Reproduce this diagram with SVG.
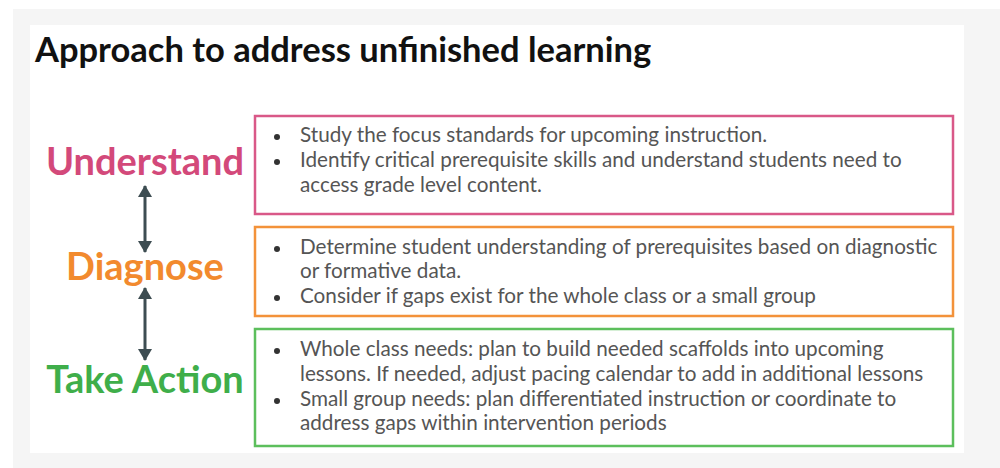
<svg xmlns="http://www.w3.org/2000/svg" width="1000" height="468" viewBox="0 0 1000 468">
<defs>
<marker id="ah" viewBox="0 0 12 14" refX="11" refY="7" markerWidth="12" markerHeight="14" markerUnits="userSpaceOnUse" orient="auto-start-reverse">
<path d="M0,0 L12,7 L0,14 Z" fill="#3d4d52"/>
</marker>
<style>
.title{font-family:Lato,"Liberation Sans",sans-serif;font-weight:700;font-size:34.5px;fill:#111}
.lbl{font-family:Lato,"Liberation Sans",sans-serif;font-weight:700;font-size:38px;text-anchor:middle}
.body{font-family:Lato,"Liberation Sans",sans-serif;font-size:20.7px;fill:#555}
.box{fill:#fff;stroke-width:2.5}
.bul{fill:#333}
.arr{stroke:#3d4d52;stroke-width:3;fill:none}
</style>
</defs>
<rect x="0" y="0" width="1000" height="468" fill="#fff"/>
<rect x="13" y="9" width="987" height="459" fill="#f5f5f5"/>
<rect x="30" y="25" width="934" height="428" fill="#fff"/>
<text class="title" x="35" y="62">Approach to address unfinished learning</text>

<g id="understand">
<text class="lbl" x="145" y="175" fill="#d3497a">Understand</text>
<rect class="box" x="255" y="116" width="698" height="98" stroke="#d95888"/>
<circle class="bul" cx="277" cy="137" r="3"/>
<circle class="bul" cx="277" cy="162" r="3"/>
<text class="body" x="300" y="142">Study the focus standards for upcoming instruction.</text>
<text class="body" x="300" y="167">Identify critical prerequisite skills and understand students need to</text>
<text class="body" x="300" y="192">access grade level content.</text>
</g>

<g id="diagnose">
<text class="lbl" x="145" y="280" fill="#f28a2e">Diagnose</text>
<rect class="box" x="255" y="227" width="698" height="89" stroke="#f3923a"/>
<circle class="bul" cx="277" cy="249" r="3"/>
<circle class="bul" cx="277" cy="298" r="3"/>
<text class="body" x="300" y="254">Determine student understanding of prerequisites based on diagnostic</text>
<text class="body" x="300" y="278">or formative data.</text>
<text class="body" x="300" y="303">Consider if gaps exist for the whole class or a small group</text>
</g>

<g id="take-action">
<text class="lbl" x="145" y="393" fill="#3fae4a">Take Action</text>
<rect class="box" x="255" y="329" width="698" height="117" stroke="#5cbf5c"/>
<circle class="bul" cx="277" cy="351" r="3"/>
<circle class="bul" cx="277" cy="401" r="3"/>
<text class="body" x="300" y="356">Whole class needs: plan to build needed scaffolds into upcoming</text>
<text class="body" x="300" y="381">lessons. If needed, adjust pacing calendar to add in additional lessons</text>
<text class="body" x="300" y="406">Small group needs: plan differentiated instruction or coordinate to</text>
<text class="body" x="300" y="430">address gaps within intervention periods</text>
</g>

<g id="connectors">
<line class="arr" x1="145" y1="186" x2="145" y2="252" marker-start="url(#ah)" marker-end="url(#ah)"/>
<line class="arr" x1="145" y1="288" x2="145" y2="360" marker-start="url(#ah)" marker-end="url(#ah)"/>
</g>
</svg>
